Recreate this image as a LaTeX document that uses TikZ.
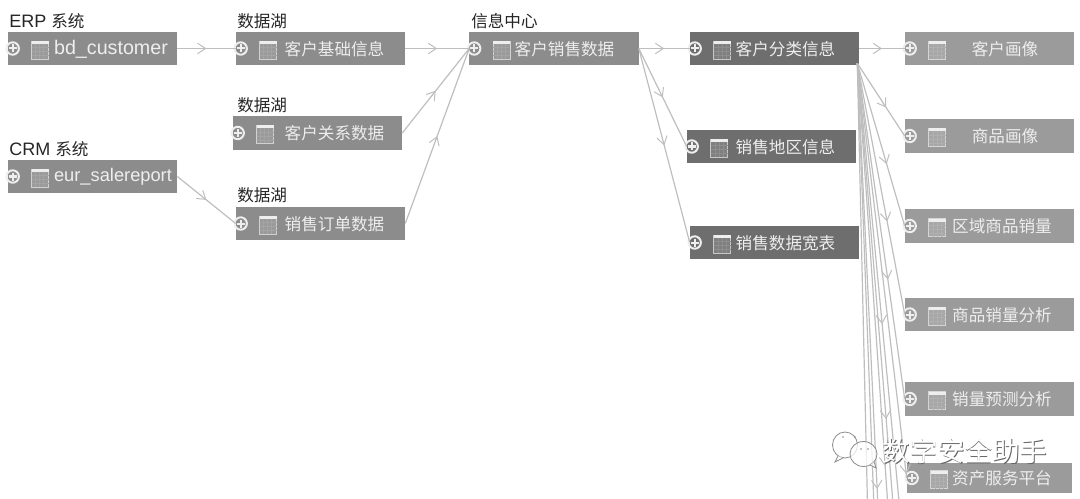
\documentclass[tikz,border=0pt]{standalone}
\usepackage{fontspec}
\setmainfont{Liberation Sans}
\newfontfamily\cjk{Noto Sans CJK SC}
\usetikzlibrary{arrows.meta,calc,decorations.markings,positioning}
\definecolor{boxgray}{RGB}{140,140,140}
\definecolor{boxdark}{RGB}{110,110,110}
\definecolor{boxlight}{RGB}{155,155,155}
\definecolor{linegray}{RGB}{190,190,190}
\definecolor{inkwhite}{RGB}{238,238,238}
\newcommand{\cn}[1]{{\fontsize{11.8}{14}\cjk #1}}
% name, centre, shift of the text, text
\newcommand{\tablenode}[5][boxgray]{%
  \node [tablebox,fill=#1] (#2) at (#3) {};%
  \node [tabletext] (#2-t) at ($(#2.center)+(#4,0.5)$) {#5};%
  \draw [iconline] ($(#2.west)+(5,0)$) circle (6.2);%
  \draw [iconline] ($(#2.west)+(1,0)$) -- ++(8,0);%
  \draw [iconline] ($(#2.west)+(5,-4)$) -- ++(0,8);%
  \draw [line width=0.02cm,draw=inkwhite!70!#1,fill=#1!88!white] ($(#2.west)+(24,-7.5)$) rectangle ++(17,18);%
  \fill [inkwhite] ($(#2.west)+(24,-7.5)$) rectangle ++(17,3);%
  \foreach \gx in {4,8,12} \draw [line width=0.01cm,draw=inkwhite!25!#1] ($(#2.west)+(24+\gx,-4.5)$) -- ++(0,15);%
  \foreach \gy in {-1,3,7} \draw [line width=0.01cm,draw=inkwhite!25!#1] ($(#2.west)+(24,\gy)$) -- ++(17,0);%
}
\begin{document}
\begin{tikzpicture}[x=0.025cm,y=-0.025cm,
    tablebox/.style={minimum width=4.225cm,minimum height=0.825cm,inner sep=0pt},
    tabletext/.style={text=inkwhite,inner sep=0pt,font=\fontsize{14}{15}\selectfont},
    headtext/.style={text=black!85,inner sep=0pt,anchor=west,font=\fontsize{12.8}{15}\selectfont},
    iconline/.style={draw=inkwhite,line width=0.05cm},
    flowline/.style={draw=linegray,line width=0.03cm,postaction={decorate},
      decoration={markings,mark=at position #1 with {\arrow[linegray,line width=0.025cm]{Straight Barb[length=2mm,width=2.6mm]}}}},
    flowline/.default=0.5,
    markline/.style={draw=black!45,line width=0.02cm,fill=white,fill opacity=0.75}]
    \useasboundingbox (0,0) rectangle (1080,499);
    \clip (0,0) rectangle (1080,499);

    % Marking the source and lake tables
    \tablenode{bdcustomer}{92.5,48.5}{18.5}{bd\_customer}
    \tablenode{eursale}{92.5,176.5}{20.5}{\fontsize{13}{15}\selectfont eur\_salereport}
    \tablenode{lakebase}{320.5,48.5}{14}{\cn{客户基础信息}}
    \tablenode{lakerel}{317.5,133}{17}{\cn{客户关系数据}}
    \tablenode{lakeorder}{320.5,223.5}{14}{\cn{销售订单数据}}
    \tablenode{salecenter}{554,48.5}{10.5}{\cn{客户销售数据}}

    % Marking the dark tables
    \tablenode[boxdark]{custclass}{774.5,48.5}{11}{\cn{客户分类信息}}
    \tablenode[boxdark]{salearea}{771.5,146.5}{14}{\cn{销售地区信息}}
    \tablenode[boxdark]{salewide}{774.5,242.5}{11}{\cn{销售数据宽表}}

    % Marking the right column
    \tablenode[boxlight]{custimage}{989.5,48.5}{15.5}{\cn{客户画像}}
    \tablenode[boxlight]{goodsimage}{989.5,136}{15.5}{\cn{商品画像}}
    \tablenode[boxlight]{areagoods}{989.5,226}{12.5}{\cn{区域商品销量}}
    \tablenode[boxlight]{goodsana}{989.5,314.5}{12.5}{\cn{商品销量分析}}
    \tablenode[boxlight]{salefore}{989.5,399}{12.5}{\cn{销量预测分析}}
    \begin{scope}[tablebox/.append style={minimum width=4.125cm,minimum height=0.75cm}]
    \tablenode[boxlight]{assetsrv}{989.5,478}{12.5}{\cn{资产服务平台}}
    \end{scope}

    % Marking the headings
    \node [headtext] (headerp) at (9,21) {ERP \cn{系统}};
    \node [headtext] (headcrm) at (9,149) {CRM \cn{系统}};
    \node [headtext] (headlakea) at (237,21) {\cn{数据湖}};
    \node [headtext] (headlakeb) at (237,105) {\cn{数据湖}};
    \node [headtext] (headlakec) at (237,195) {\cn{数据湖}};
    \node [headtext] (headcenter) at (471,21) {\cn{信息中心}};

    % Drawing connectors of the first columns
    \draw [flowline] (bdcustomer.east) -- (lakebase.west);
    \draw [flowline] (eursale.east) -- (lakeorder.west);
    \draw [flowline] (lakebase.east) -- (salecenter.west);
    \draw [flowline] (lakerel.east) -- (salecenter.west);
    \draw [flowline] (lakeorder.east) -- (salecenter.west);
    \draw [flowline] (salecenter.east) -- (custclass.west);
    \draw [flowline] (salecenter.east) -- (salearea.west);
    \draw [flowline] (salecenter.east) -- (salewide.west);
    \draw [flowline] (custclass.east) -- (custimage.west);

    % Drawing the fan below the class table
    \coordinate (custfan) at ($(custclass.south east)+(-2,-2)$);
    \coordinate (fanleft) at (878,960);
    \coordinate (fanmid) at (891,960);
    \coordinate (fandown) at (897,915);
    \coordinate (fannear) at (915,775);
    \coordinate (fanfar) at (913,869);
    \coordinate (fanupper) at (907,585);
    \draw [flowline=0.61] (custfan) -- (goodsimage.west);
    \draw [flowline=0.62] (custfan) -- (areagoods.west);
    \draw [flowline=0.63] (custfan) -- (goodsana.west);
    \draw [flowline=0.644] (custfan) -- (salefore.west);
    \draw [flowline=0.99] (custfan) -- (assetsrv.west);
    \draw [flowline] (custfan) -- (fanleft);
    \draw [flowline] (custfan) -- (fanmid);
    \draw [flowline] (custfan) -- (fandown);
    \draw [flowline] (custfan) -- (fannear);
    \draw [flowline] (custfan) -- (fanfar);
    \draw [flowline] (custfan) -- (fanupper);

    % Marking the watermark
    \draw [markline] (845,445) ellipse (12.5 and 13);
    \draw [markline] (838,456) -- (835,462) -- (843,458);
    \fill [black!45] (843,437) circle (0.8) (855,437) circle (0.8);
    \draw [markline] (863.5,454) ellipse (13.5 and 12.5);
    \draw [markline] (870,465) -- (876,468) -- (874,462);
    \fill [black!45] (861,449) circle (0.8) (868,449) circle (0.8);
    \node [inner sep=0pt,text=black!60,font=\fontsize{19.5}{22}\cjk] (markshade) at (965.8,451.6) {数字安全助手};
    \node [inner sep=0pt,text=white,font=\fontsize{19.5}{22}\cjk] (marktext) at (965,451) {数字安全助手};
\end{tikzpicture}
\end{document}
